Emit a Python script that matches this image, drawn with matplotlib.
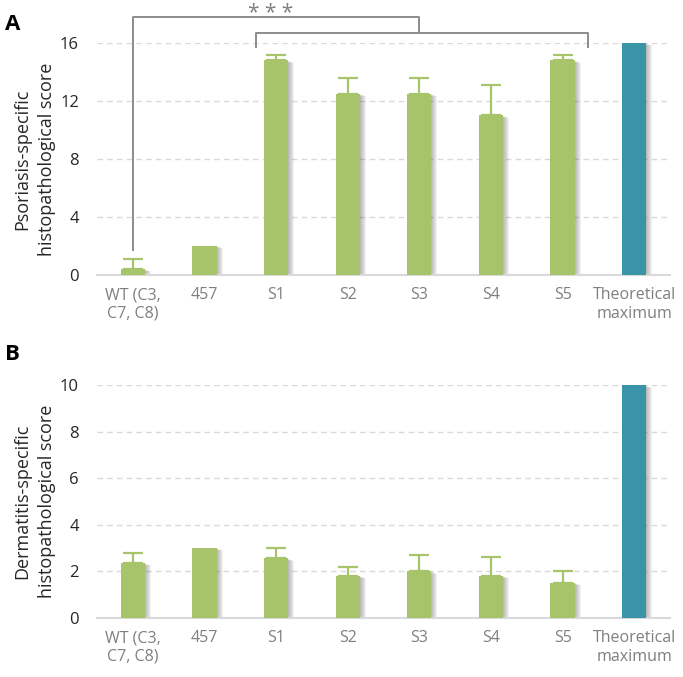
import numpy as np
import matplotlib.pyplot as plt
from matplotlib.transforms import ScaledTranslation

plt.rcParams['font.family'] = ['Open Sans', 'DejaVu Sans']

categories = ['WT (C3,\nC7, C8)', '457', 'S1', 'S2', 'S3', 'S4', 'S5', 'Theoretical\nmaximum']

psoriasis_mean = [0.4, 2.0, 14.8, 12.5, 12.5, 11.0, 14.8, 16.0]
psoriasis_err = [0.7, 0.0, 0.4, 1.1, 1.1, 2.1, 0.4, 0.0]

dermatitis_mean = [2.35, 3.0, 2.55, 1.8, 2.0, 1.8, 1.5, 10.0]
dermatitis_err = [0.45, 0.0, 0.45, 0.4, 0.7, 0.8, 0.5, 0.0]

green = '#A8C46A'
teal = '#3A94A8'
colors = [green] * 7 + [teal]


def draw_panel(ax, means, errs, ymax, yticks, ylabel):
    x = np.arange(len(categories))
    w = 0.34
    fig = ax.figure
    # soft shadow to the right of each bar
    for k in range(1, 7):
        tr = ax.transData + ScaledTranslation(k / 100, -k / 250, fig.dpi_scale_trans)
        ax.bar(x, means, width=w, color='#444444', alpha=0.07, transform=tr, zorder=2)
    ax.bar(x, means, width=w, color=colors, zorder=3)
    has_err = [i for i in range(len(x)) if errs[i] > 0]
    ax.errorbar(x[has_err], np.array(means)[has_err],
                yerr=[np.zeros(len(has_err)), np.array(errs)[has_err]],
                fmt='none', ecolor=green, elinewidth=1.6, capsize=7, capthick=1.6, zorder=4)
    ax.set_xlim(-0.5, len(x) - 0.5)
    ax.set_ylim(0, ymax)
    ax.set_yticks(yticks)
    ax.set_xticks(x)
    ax.set_xticklabels(categories, color='#7F7F7F', fontsize=11.5, linespacing=1.2)
    ax.tick_params(axis='y', labelsize=12, labelcolor='#262626', length=0, pad=13)
    ax.tick_params(axis='x', length=0, pad=9)
    ax.yaxis.grid(True, linestyle=(0, (4, 3)), color='#D9D9D9', linewidth=1, zorder=0)
    ax.set_axisbelow(True)
    for s in ['top', 'right', 'left']:
        ax.spines[s].set_visible(False)
    ax.spines['bottom'].set_color('#D9D9D9')
    ax.spines['bottom'].set_linewidth(1.5)
    ax.set_ylabel(ylabel, fontsize=13, color='#262626', labelpad=3, linespacing=1.5)


fig = plt.figure(figsize=(6.83, 6.77), dpi=100)
ax1 = fig.add_axes([0.142, 0.594, 0.839, 0.3425])
ax2 = fig.add_axes([0.142, 0.0876, 0.839, 0.3433])

draw_panel(ax1, psoriasis_mean, psoriasis_err, 16, [0, 4, 8, 12, 16],
           'Psoriasis-specific\nhistopathological score')
draw_panel(ax2, dermatitis_mean, dermatitis_err, 10, [0, 2, 4, 6, 8, 10],
           'Dermatitis-specific\nhistopathological score')

# significance brackets
bc = '#8C8C8C'
ax1.plot([0, 0, 4, 4], [1.7, 17.8, 17.8, 16.7], color=bc, lw=1.4, clip_on=False, zorder=5)
ax1.plot([1.72, 1.72, 6.36, 6.36], [15.7, 16.7, 16.7, 15.7], color=bc, lw=1.4, clip_on=False, zorder=5)
ax1.text(1.92, 17.65, '* * *', color='#7F7F7F', fontsize=15, ha='center', va='baseline', clip_on=False)

fig.text(0.008, 0.9645, 'A', fontsize=16, fontweight='bold', va='center')
fig.text(0.008, 0.477, 'B', fontsize=16, fontweight='bold', va='center')

fig.savefig('out.png', dpi=100)
